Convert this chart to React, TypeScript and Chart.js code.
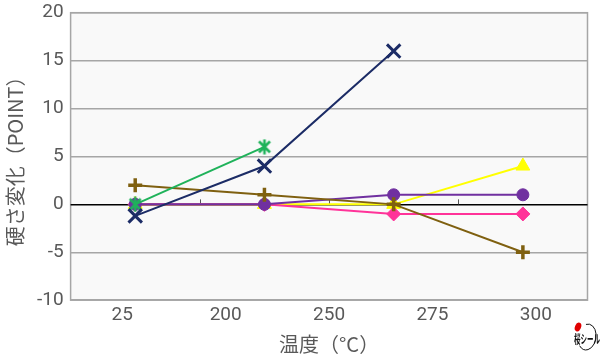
import React, { useEffect, useRef } from "react";
import { Chart, registerables } from "chart.js";

Chart.register(...registerables);

// axis labels as printed under the plot
const xLabels = ["25", "200", "250", "275", "300"];
// measurement points the series are plotted on
const dataCategories = ["25", "200", "250", "300"];
const yTicks = { min: -10, max: 20, step: 5 };

const navyX = [-1.2, 4, 16, null];
const greenStar = [0, 6, null, null];
const brownPlus = [2, 1, 0, -5];
const purpleCircle = [0, 0, 1, 1];
const pinkDiamond = [0, 0, -1, -1];
const yellowTriangle = [0, 0, 0, 4];

const xTitle = "温度（°C）";
const yTitle = "硬さ変化（POINT）";
const logoText = "桜シール";

const FONT = "'Roboto', 'Noto Sans CJK JP', sans-serif";
const CJK = "'Noto Sans CJK JP', sans-serif";
const GRAY = "#595959";

function asteriskMarker(color: string) {
  const c = document.createElement("canvas");
  const s = 16;
  c.width = s;
  c.height = s;
  const g = c.getContext("2d")!;
  g.strokeStyle = color;
  g.lineWidth = 2.6;
  g.lineCap = "butt";
  g.beginPath();
  g.moveTo(2.5, 2.5);
  g.lineTo(13.5, 13.5);
  g.moveTo(13.5, 2.5);
  g.lineTo(2.5, 13.5);
  g.moveTo(8, 0.5);
  g.lineTo(8, 15.5);
  g.stroke();
  return c;
}

const plotBg = {
  id: "plotBg",
  beforeDraw(chart: any) {
    const { ctx, chartArea: a } = chart;
    ctx.save();
    ctx.fillStyle = "#f9f9f9";
    ctx.fillRect(a.left, a.top, a.right - a.left, a.bottom - a.top);
    ctx.strokeStyle = "#a6a6a6";
    ctx.lineWidth = 1.5;
    ctx.strokeRect(a.left, a.top, a.right - a.left, a.bottom - a.top);
    ctx.restore();
  },
  beforeDatasetsDraw(chart: any) {
    const { ctx } = chart;
    const xs = chart.scales.x;
    const ys = chart.scales.y;
    const y0 = ys.getPixelForValue(0);
    ctx.save();
    ctx.strokeStyle = "#555";
    ctx.lineWidth = 1;
    for (let i = 1; i < dataCategories.length; i++) {
      const px = (xs.getPixelForValue(i - 1) + xs.getPixelForValue(i)) / 2;
      ctx.beginPath();
      ctx.moveTo(Math.round(px) + 0.5, y0);
      ctx.lineTo(Math.round(px) + 0.5, y0 - 5);
      ctx.stroke();
    }
    ctx.restore();
  },
  afterDraw(chart: any) {
    const { ctx, width, height } = chart;
    ctx.save();
    // logo mark
    ctx.fillStyle = "#e00000";
    ctx.beginPath();
    ctx.ellipse(width - 22, height - 30, 3, 4.5, 0.4, 0, Math.PI * 2);
    ctx.fill();
    ctx.strokeStyle = "#111";
    ctx.lineWidth = 1;
    ctx.beginPath();
    ctx.ellipse(width - 13, height - 20, 9, 13, 0.15, -1.9, 2.3);
    ctx.stroke();
    ctx.fillStyle = "#111";
    ctx.font = `bold 10px ${CJK}`;
    ctx.textAlign = "left";
    ctx.textBaseline = "middle";
    ctx.translate(width - 26, height - 18);
    ctx.scale(0.65, 1.2);
    ctx.fillText(logoText, 0, 0);
    ctx.restore();
  },
};

export default function App() {
  const ref = useRef<HTMLCanvasElement>(null);
  useEffect(() => {
    if (!ref.current) return;
    const mk = (
      label: string,
      data: (number | null)[],
      color: string,
      style: any,
      radius: number,
      order: number,
      bw = 2.5
    ) => ({
      label,
      data,
      xAxisID: "x",
      yAxisID: "y",
      borderColor: color,
      backgroundColor: color,
      borderWidth: 2,
      pointStyle: style,
      pointRadius: radius,
      pointBorderWidth: bw,
      pointBorderColor: color,
      pointBackgroundColor: color,
      order,
      tension: 0,
    });
    const chart = new Chart(ref.current, {
      type: "line",
      data: {
        labels: dataCategories,
        datasets: [
          mk("navy", navyX, "#1c2c66", "crossRot", 9.5, 1, 3),
          mk("green", greenStar, "#1fb25a", asteriskMarker("#1fb25a"), 8, 2, 3),
          mk("brown", brownPlus, "#7f6010", "cross", 7, 3, 3.5),
          mk("purple", purpleCircle, "#7030a0", "circle", 6, 4, 1),
          mk("pink", pinkDiamond, "#ff3399", "rectRot", 7, 5, 1),
          mk("yellow", yellowTriangle, "#ffff00", "triangle", 8, 6, 1),
        ] as any,
      },
      options: {
        animation: false,
        responsive: false,
        maintainAspectRatio: false,
        layout: { padding: { left: 3, right: 11, top: 12, bottom: 1 } },
        plugins: { legend: { display: false }, tooltip: { enabled: false } },
        scales: {
          x: {
            type: "category",
            labels: dataCategories,
            display: false,
            offset: true,
          },
          x2: {
            type: "category",
            labels: xLabels,
            position: "bottom",
            offset: true,
            grid: { display: false, drawTicks: false },
            border: { display: false },
            ticks: { color: GRAY, font: { family: FONT, size: 19 }, padding: 4 },
            title: {
              display: true,
              text: xTitle,
              color: GRAY,
              font: { family: CJK, size: 20 },
              padding: { top: 1, bottom: 0 },
            },
          },
          y: {
            min: yTicks.min,
            max: yTicks.max,
            ticks: {
              stepSize: yTicks.step,
              color: GRAY,
              font: { family: FONT, size: 19, lineHeight: 0.6 },
              padding: 7,
            },
            border: { display: false },
            grid: {
              color: (c: any) => (c.tick && c.tick.value === 0 ? "#000" : "#a6a6a6"),
              lineWidth: 1.5,
              tickLength: 0,
            },
            title: {
              display: true,
              text: yTitle,
              color: GRAY,
              font: { family: CJK, size: 20 },
              padding: { top: 0, bottom: 3 },
            },
          },
        },
      } as any,
      plugins: [plotBg],
    });
    return () => chart.destroy();
  }, []);
  return (
    <div style={{ position: "absolute", left: 0, top: 0, width: 600, height: 357 }}>
      <canvas ref={ref} width={600} height={357} style={{ width: 600, height: 357 }} />
    </div>
  );
}
